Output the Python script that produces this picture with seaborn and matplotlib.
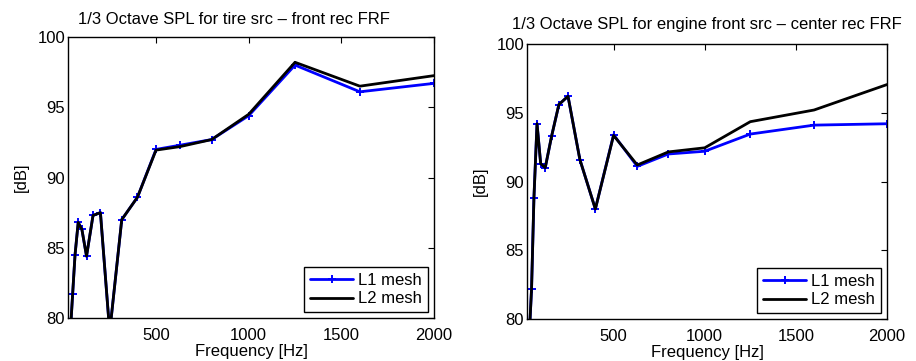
import matplotlib
matplotlib.use("Agg")
import matplotlib.pyplot as plt
import seaborn as sns
import pandas as pd

freq = [25, 31.5, 40, 50, 63, 80, 100, 125, 160, 200, 250, 315, 400, 500,
        630, 800, 1000, 1250, 1600, 2000]

tire_l1 = [72.0, 75.0, 79.5, 81.7, 84.5, 86.8, 86.3, 84.4, 87.3, 87.5, 79.0,
           87.0, 88.6, 92.0, 92.3, 92.7, 94.4, 98.0, 96.1, 96.7]
tire_l2 = [72.0, 75.0, 79.5, 81.7, 84.5, 86.8, 86.3, 84.4, 87.3, 87.5, 79.0,
           87.0, 88.6, 91.95, 92.2, 92.7, 94.5, 98.2, 96.5, 97.25]

eng_l1 = [72.0, 75.0, 79.5, 82.2, 88.8, 94.2, 91.3, 91.0, 93.3, 95.6, 96.2,
          91.6, 88.0, 93.4, 91.1, 92.0, 92.2, 93.45, 94.1, 94.2]
eng_l2 = [72.0, 75.0, 79.5, 82.2, 88.8, 94.2, 91.3, 91.0, 93.3, 95.6, 96.2,
          91.6, 88.0, 93.35, 91.2, 92.15, 92.45, 94.35, 95.2, 97.05]

titles = ["1/3 Octave SPL for tire src \u2013 front rec FRF",
          "1/3 Octave SPL for engine front src \u2013 center rec FRF"]
series_names = ["L1 mesh", "L2 mesh"]
xticks = [500, 1000, 1500, 2000]
yticks = [80, 85, 90, 95, 100]

sns.set_style("white")
plt.rcParams["font.family"] = ["Liberation Sans", "DejaVu Sans"]
plt.rcParams["text.color"] = "black"
plt.rcParams["axes.labelcolor"] = "black"
plt.rcParams["xtick.color"] = "black"
plt.rcParams["ytick.color"] = "black"

W, H = 916, 361
fig = plt.figure(figsize=(W / 100, H / 100), dpi=100)

def rect(l, r, t, b):
    return [l / W, 1 - b / H, (r - l) / W, (b - t) / H]

ax1 = fig.add_axes(rect(68, 434, 37, 318))
ax2 = fig.add_axes(rect(527, 887, 44, 319))

panels = [(ax1, tire_l1, tire_l2, titles[0], 234, 20),
          (ax2, eng_l1, eng_l2, titles[1], 707, 25)]

for ax, l1, l2, title, tx, ty in panels:
    df1 = pd.DataFrame({"f": freq, "spl": l1})
    df2 = pd.DataFrame({"f": freq, "spl": l2})
    sns.lineplot(data=df1, x="f", y="spl", ax=ax, color="blue", lw=2,
                 marker="+", markersize=5.5, markeredgewidth=1.4,
                 markeredgecolor="blue", label=series_names[0])
    sns.lineplot(data=df2, x="f", y="spl", ax=ax, color="black", lw=2,
                 label=series_names[1])
    ax.set_xlim(25, 2000)
    ax.set_ylim(80, 100)
    ax.set_xticks(xticks)
    ax.set_yticks(yticks)
    ax.set_xticklabels([str(v) for v in xticks])
    ax.set_yticklabels([str(v) for v in yticks])
    ax.tick_params(direction="in", top=True, right=True, length=4,
                   width=0.8, labelsize=12, color="black",
                   labelcolor="black")
    ax.tick_params(axis="x", pad=7)
    ax.tick_params(axis="y", pad=2)
    for s in ax.spines.values():
        s.set_color("black")
        s.set_linewidth(1.0)
    ax.set_xlabel("Frequency [Hz]", fontsize=12, labelpad=1, color="black")
    ax.set_ylabel("[dB]", fontsize=12, labelpad=6, color="black")
    fig.text(tx / W, 1 - ty / H, title, fontsize=12, ha="center",
             va="center", color="black")
    leg = ax.legend(loc="lower right", fontsize=12, frameon=True,
                    fancybox=False, edgecolor="black", framealpha=1,
                    handlelength=2.6, handletextpad=0.3, borderpad=0.35,
                    labelspacing=0.2, borderaxespad=0.35)
    leg.get_frame().set_linewidth(1.0)
    for t in leg.get_texts():
        t.set_color("black")

fig.savefig("out.png", dpi=100)
